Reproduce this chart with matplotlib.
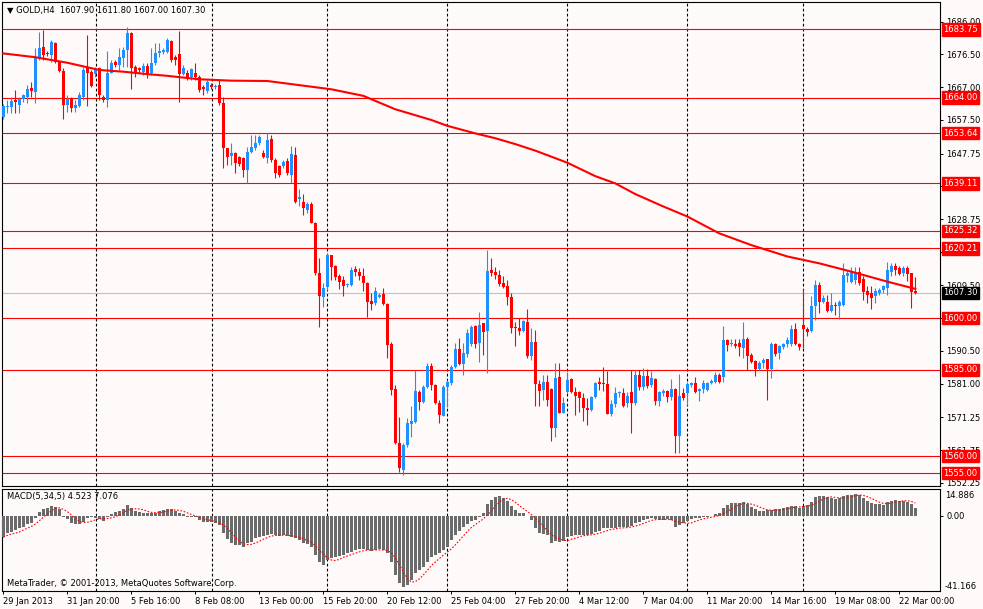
import numpy as np
import pandas as pd
import matplotlib
matplotlib.use("Agg")
import matplotlib.pyplot as plt
from matplotlib.transforms import blended_transform_factory

#### Data (GOLD, H4, 29 Jan - 22 Mar 2013) ####

opens = [
    1658.3, 1661.2, 1661.4, 1663.3, 1661.8, 1663.5, 1664.3, 1666.8, 1665.7, 1675.7,
    1678.6, 1677.0, 1676.3, 1679.7, 1674.4, 1671.8, 1661.8, 1663.7, 1660.9, 1661.5,
    1664.3, 1672.5, 1671.5, 1670.8, 1672.5, 1664.3, 1663.3, 1671.2, 1674.4, 1673.4,
    1675.4, 1677.8, 1682.6, 1673.0, 1672.5, 1671.5, 1673.2, 1671.2, 1673.9, 1676.8,
    1677.3, 1677.3, 1680.5, 1675.7, 1676.6, 1670.8, 1671.2, 1670.1, 1671.0, 1669.9,
    1667.0, 1666.0, 1667.6, 1667.0, 1667.6, 1662.5, 1649.3, 1647.0, 1647.8, 1646.8,
    1646.4, 1643.0, 1648.3, 1649.3, 1650.7, 1648.0, 1646.4, 1652.0, 1645.9, 1644.2,
    1644.0, 1645.7, 1641.5, 1647.3, 1634.6, 1633.8, 1631.5, 1633.0, 1627.5, 1613.0,
    1606.2, 1609.1, 1618.3, 1615.1, 1612.3, 1611.1, 1609.7, 1609.6, 1614.4, 1613.5,
    1612.3, 1610.3, 1605.1, 1604.5, 1606.1, 1607.0, 1604.1, 1592.5, 1579.4, 1563.9,
    1556.0, 1563.2, 1569.3, 1570.0, 1578.7, 1575.8, 1580.1, 1586.1, 1580.6, 1575.5,
    1571.6, 1580.1, 1581.1, 1585.9, 1591.0, 1586.7, 1589.6, 1592.5, 1597.7, 1592.9,
    1598.5, 1596.4, 1614.0, 1613.5, 1612.5, 1610.3, 1609.4, 1606.1, 1597.5, 1597.1,
    1596.4, 1599.0, 1589.0, 1593.2, 1580.9, 1579.2, 1581.6, 1579.4, 1568.1, 1582.8,
    1572.4, 1578.7, 1582.3, 1578.7, 1578.7, 1576.8, 1573.9, 1573.4, 1577.1, 1581.6,
    1581.3, 1580.9, 1572.2, 1575.1, 1578.2, 1578.2, 1575.5, 1578.7, 1575.3, 1583.5,
    1580.1, 1583.2, 1580.6, 1582.3, 1576.1, 1578.4, 1579.0, 1577.1, 1579.4, 1565.8,
    1578.2, 1578.2, 1580.6, 1581.1, 1579.0, 1579.4, 1579.2, 1581.3, 1581.6, 1583.5,
    1583.0, 1593.7, 1592.5, 1592.5, 1592.9, 1591.3, 1593.9, 1589.3, 1587.7, 1585.2,
    1587.1, 1588.1, 1585.2, 1592.5, 1590.0, 1591.6, 1592.5, 1592.5, 1597.0, 1592.5,
    1598.0, 1596.8, 1596.4, 1603.6, 1609.6, 1604.8, 1604.8, 1602.2, 1603.8, 1603.5,
    1603.9, 1612.1, 1610.6, 1611.1, 1613.5, 1611.3, 1607.9, 1607.2, 1606.3, 1607.2,
    1608.2, 1608.7, 1613.5, 1615.0, 1614.5, 1613.0, 1614.5, 1613.0, 1607.9,
]
highs = [
    1662.0, 1663.3, 1664.3, 1666.2, 1664.3, 1664.9, 1667.6, 1668.6, 1678.3, 1683.1,
    1683.6, 1677.5, 1680.7, 1680.2, 1674.6, 1672.5, 1664.7, 1664.3, 1663.3, 1665.7,
    1673.0, 1682.1, 1672.0, 1673.0, 1673.0, 1664.7, 1677.5, 1674.9, 1675.0, 1678.3,
    1678.8, 1684.6, 1683.1, 1673.4, 1673.0, 1673.9, 1673.9, 1678.3, 1679.7, 1679.7,
    1678.3, 1681.2, 1680.7, 1676.3, 1683.4, 1673.4, 1672.0, 1672.5, 1673.9, 1670.5,
    1667.6, 1669.1, 1668.1, 1668.0, 1669.1, 1664.3, 1649.5, 1650.7, 1648.3, 1647.0,
    1646.8, 1649.8, 1653.1, 1653.1, 1653.1, 1648.8, 1653.6, 1653.1, 1646.4, 1644.5,
    1645.8, 1646.4, 1650.0, 1649.6, 1637.4, 1635.9, 1633.8, 1633.8, 1628.0, 1617.4,
    1610.1, 1618.8, 1618.4, 1615.4, 1612.8, 1612.1, 1610.1, 1614.8, 1615.1, 1614.5,
    1614.5, 1610.6, 1607.2, 1609.0, 1607.2, 1608.7, 1604.3, 1593.2, 1580.6, 1571.3,
    1563.7, 1571.0, 1574.5, 1585.0, 1579.2, 1580.6, 1586.9, 1587.1, 1580.9, 1576.3,
    1580.6, 1582.1, 1586.4, 1592.7, 1594.2, 1592.7, 1596.8, 1597.9, 1597.9, 1601.9,
    1598.5, 1619.8, 1617.4, 1614.8, 1614.0, 1612.1, 1611.1, 1607.2, 1599.0, 1600.0,
    1599.5, 1602.6, 1597.1, 1596.6, 1582.1, 1583.5, 1583.5, 1579.7, 1587.1, 1587.1,
    1577.2, 1584.5, 1582.6, 1580.1, 1579.0, 1578.2, 1576.8, 1577.5, 1581.6, 1583.0,
    1585.9, 1584.8, 1576.3, 1580.1, 1579.0, 1579.7, 1578.7, 1585.0, 1585.0, 1585.0,
    1585.5, 1585.2, 1584.8, 1582.6, 1578.8, 1579.4, 1579.2, 1582.3, 1579.7, 1583.8,
    1579.7, 1581.6, 1581.6, 1582.9, 1579.7, 1582.1, 1581.6, 1582.3, 1584.5, 1584.0,
    1597.8, 1593.9, 1593.9, 1593.9, 1593.9, 1599.0, 1594.5, 1590.0, 1587.9, 1587.7,
    1588.4, 1588.1, 1593.2, 1592.9, 1592.2, 1592.9, 1594.5, 1598.0, 1598.5, 1592.9,
    1608.4, 1597.5, 1606.3, 1611.1, 1610.6, 1606.7, 1606.7, 1607.2, 1604.8, 1605.3,
    1615.9, 1614.0, 1614.8, 1614.8, 1614.8, 1612.1, 1609.2, 1609.4, 1608.7, 1608.7,
    1609.6, 1616.4, 1615.9, 1615.9, 1615.2, 1615.2, 1615.0, 1613.2, 1611.8,
]
lows = [
    1657.8, 1659.4, 1659.4, 1659.4, 1659.4, 1662.8, 1662.3, 1664.3, 1662.3, 1674.9,
    1674.9, 1676.0, 1674.4, 1674.1, 1671.5, 1657.7, 1659.9, 1659.9, 1659.9, 1661.4,
    1663.3, 1661.5, 1667.0, 1670.1, 1663.3, 1662.8, 1661.2, 1671.2, 1673.0, 1672.0,
    1673.0, 1673.0, 1666.4, 1670.1, 1671.0, 1670.5, 1669.6, 1670.5, 1673.4, 1675.9,
    1676.5, 1676.8, 1674.4, 1673.4, 1662.8, 1670.5, 1669.1, 1669.1, 1669.1, 1665.7,
    1664.7, 1665.4, 1666.4, 1666.6, 1661.8, 1643.5, 1644.4, 1644.4, 1642.0, 1644.0,
    1641.0, 1639.1, 1647.8, 1648.8, 1650.2, 1646.4, 1644.9, 1645.4, 1640.6, 1641.0,
    1643.5, 1641.5, 1639.1, 1633.3, 1632.4, 1629.9, 1630.6, 1627.5, 1612.5, 1597.5,
    1603.3, 1608.2, 1611.1, 1611.1, 1608.4, 1606.5, 1609.0, 1609.2, 1612.1, 1611.1,
    1608.0, 1600.3, 1602.4, 1603.8, 1605.8, 1603.8, 1588.4, 1577.7, 1563.6, 1555.5,
    1554.5, 1562.7, 1565.4, 1569.5, 1573.4, 1575.3, 1579.7, 1579.2, 1575.1, 1569.5,
    1571.6, 1574.3, 1580.6, 1585.5, 1586.4, 1583.5, 1588.8, 1591.9, 1591.3, 1587.4,
    1589.3, 1584.0, 1612.1, 1611.3, 1609.3, 1608.7, 1603.8, 1595.8, 1591.9, 1595.1,
    1596.1, 1588.4, 1587.9, 1574.5, 1574.5, 1576.3, 1574.5, 1564.5, 1565.4, 1572.4,
    1572.4, 1578.2, 1578.2, 1571.9, 1572.9, 1570.3, 1569.0, 1573.2, 1576.8, 1579.2,
    1579.0, 1572.2, 1571.6, 1574.3, 1577.2, 1574.3, 1574.3, 1566.8, 1574.8, 1579.2,
    1579.2, 1579.7, 1580.1, 1574.8, 1574.5, 1577.3, 1575.8, 1576.3, 1561.0, 1561.0,
    1576.3, 1574.8, 1580.1, 1578.4, 1576.1, 1578.2, 1579.0, 1580.9, 1581.3, 1581.1,
    1581.6, 1590.6, 1591.8, 1591.3, 1589.0, 1588.4, 1585.0, 1586.9, 1583.2, 1585.0,
    1585.5, 1576.3, 1582.6, 1589.0, 1588.1, 1591.0, 1591.6, 1591.9, 1592.2, 1590.8,
    1591.3, 1594.7, 1596.1, 1599.5, 1601.6, 1604.3, 1601.9, 1601.9, 1600.9, 1599.7,
    1603.6, 1610.6, 1610.3, 1609.9, 1609.6, 1605.3, 1604.3, 1602.6, 1604.3, 1606.7,
    1607.2, 1606.7, 1612.3, 1612.5, 1612.5, 1612.1, 1610.9, 1602.9, 1607.0,
]
closes = [
    1661.5, 1661.5, 1663.1, 1662.8, 1663.7, 1664.7, 1666.4, 1666.0, 1675.7, 1678.3,
    1676.3, 1676.6, 1680.2, 1674.4, 1671.8, 1661.8, 1663.7, 1660.9, 1661.8, 1664.7,
    1672.0, 1671.2, 1667.3, 1672.0, 1664.7, 1663.3, 1671.2, 1673.9, 1673.4, 1675.9,
    1677.8, 1682.6, 1672.5, 1671.5, 1672.0, 1673.2, 1670.5, 1673.9, 1676.8, 1677.6,
    1677.8, 1680.7, 1674.9, 1674.9, 1670.8, 1672.5, 1669.9, 1672.2, 1669.9, 1666.2,
    1666.4, 1668.6, 1667.0, 1667.4, 1662.3, 1649.3, 1646.8, 1647.8, 1644.9, 1644.7,
    1643.0, 1648.3, 1649.8, 1650.9, 1652.5, 1646.8, 1651.7, 1645.9, 1642.0, 1641.5,
    1645.2, 1642.0, 1647.5, 1633.8, 1635.1, 1631.9, 1633.1, 1627.7, 1613.0, 1606.4,
    1608.7, 1618.3, 1614.8, 1611.8, 1610.6, 1609.2, 1610.0, 1614.0, 1613.5, 1612.3,
    1610.1, 1604.8, 1604.1, 1608.0, 1606.7, 1604.1, 1592.2, 1579.2, 1563.9, 1556.5,
    1563.2, 1569.5, 1570.3, 1579.0, 1575.8, 1580.1, 1586.1, 1580.6, 1575.5, 1571.9,
    1580.1, 1581.6, 1585.9, 1591.0, 1586.7, 1589.8, 1595.8, 1597.5, 1592.5, 1598.0,
    1596.1, 1613.8, 1613.2, 1612.5, 1609.9, 1609.0, 1606.1, 1597.1, 1597.1, 1596.4,
    1599.3, 1589.0, 1593.2, 1580.9, 1579.0, 1581.6, 1576.3, 1568.1, 1582.6, 1572.4,
    1575.3, 1582.1, 1578.7, 1577.4, 1576.8, 1573.9, 1573.4, 1577.1, 1581.3, 1580.9,
    1580.9, 1572.2, 1575.1, 1578.2, 1578.6, 1574.5, 1577.3, 1575.5, 1583.5, 1580.1,
    1583.2, 1580.3, 1582.6, 1576.1, 1578.5, 1579.0, 1577.1, 1579.4, 1565.8, 1577.4,
    1576.8, 1580.9, 1581.3, 1578.7, 1579.4, 1581.1, 1581.3, 1581.9, 1583.5, 1581.6,
    1593.7, 1592.2, 1592.9, 1591.9, 1591.6, 1593.9, 1588.9, 1587.4, 1585.2, 1587.1,
    1587.9, 1585.2, 1592.5, 1589.6, 1591.8, 1592.5, 1593.7, 1597.0, 1592.5, 1591.6,
    1596.8, 1596.1, 1603.6, 1609.6, 1604.8, 1605.8, 1602.2, 1603.8, 1603.5, 1604.8,
    1612.5, 1613.0, 1613.5, 1613.5, 1610.1, 1607.7, 1606.7, 1605.8, 1607.9, 1608.2,
    1609.2, 1614.0, 1615.0, 1614.0, 1612.8, 1614.5, 1612.8, 1607.7, 1607.3,
]

# moving average (bar index, price)
ma_bars = [0, 8, 16, 24, 30, 36, 41, 49, 57, 66, 74, 82, 90, 98, 107, 111, 118,
           123, 128, 133, 141, 148, 153, 158, 165, 171, 179, 187, 196, 204, 212, 221, 228]
ma_vals = [1676.8, 1675.7, 1674.1, 1672.0, 1671.5, 1670.8, 1670.3, 1669.3, 1668.9,
           1668.8, 1667.6, 1666.4, 1664.5, 1660.6, 1657.5, 1655.8, 1653.6, 1652.2,
           1650.5, 1648.6, 1645.1, 1641.2, 1639.1, 1636.0, 1632.4, 1629.5, 1624.6,
           1621.2, 1617.9, 1615.9, 1613.5, 1610.6, 1608.5]

# MACD(5,34,5) main histogram
macd_main = [
    -12.5, -10.2, -9.2, -8.3, -7.3, -6.4, -5.0, -4.0, -1.5, 2.3,
    3.7, 4.2, 5.6, 5.2, 3.9, -0.6, -2.1, -4.0, -5.0, -5.0,
    -3.5, -1.5, -1.0, -1.2, -2.1, -2.9, -1.0, 0.8, 2.1, 2.9,
    3.7, 6.2, 4.2, 2.9, 2.3, 1.8, 1.4, 1.4, 1.8, 2.7,
    3.3, 4.0, 3.7, 2.9, 1.4, 0.8, -0.6, -1.0, -1.0, -2.5,
    -3.5, -3.5, -3.5, -4.0, -5.4, -10.2, -13.7, -15.6, -17.0, -17.0,
    -17.9, -16.0, -15.0, -13.1, -12.1, -11.8, -11.2, -10.8, -11.2, -11.8,
    -11.2, -11.8, -12.1, -13.1, -14.1, -15.6, -16.4, -17.9, -22.7, -26.6,
    -28.5, -25.6, -24.7, -24.1, -23.3, -22.7, -21.8, -20.8, -19.8, -19.5,
    -19.5, -19.8, -20.2, -19.8, -19.5, -19.8, -21.4, -26.6, -34.3, -39.1,
    -41.0, -40.1, -37.2, -33.3, -31.4, -29.5, -26.6, -23.7, -22.7, -21.4,
    -19.8, -17.9, -14.1, -11.2, -8.7, -6.7, -4.8, -2.9, -2.5, -0.6,
    1.4, 6.5, 9.1, 11.0, 11.2, 10.0, 8.7, 5.6, 3.3, 1.7,
    1.4, -0.2, -2.5, -7.3, -10.2, -10.6, -11.2, -15.6, -14.5, -15.0,
    -14.5, -12.5, -11.8, -11.2, -11.2, -11.2, -11.2, -10.6, -9.2, -8.7,
    -7.3, -7.3, -7.3, -7.3, -6.7, -6.7, -6.4, -6.0, -4.0, -3.5,
    -2.5, -2.1, -1.5, -2.1, -2.5, -2.5, -2.1, -2.5, -6.4, -5.4,
    -4.4, -2.9, -2.1, -1.5, -1.5, -1.0, -0.6, 0.0, 0.8, 1.4,
    4.2, 6.2, 7.1, 7.1, 7.1, 7.7, 6.7, 4.8, 3.7, 2.7,
    2.7, 3.3, 3.3, 3.7, 3.7, 4.2, 5.2, 5.6, 5.6, 4.6,
    5.6, 6.2, 8.1, 11.0, 11.4, 11.4, 10.6, 10.0, 9.4, 10.0,
    11.4, 12.0, 12.0, 12.5, 12.0, 10.0, 8.7, 7.1, 6.7, 6.7,
    6.2, 8.1, 8.7, 9.1, 8.7, 8.7, 8.1, 6.7, 4.523,
]

levels = [1683.75, 1664.00, 1653.64, 1639.11, 1625.32, 1620.21,
          1600.00, 1585.00, 1560.00, 1555.00]
bid = 1607.30
price_ticks = [1686.00, 1676.50, 1667.00, 1657.50, 1647.75, 1638.25, 1628.75,
               1619.25, 1609.50, 1600.00, 1590.50, 1581.00, 1571.25, 1561.75, 1552.25]
macd_max, macd_min = 14.886, -41.166

time_bars = list(range(0, 229, 16))
time_labels = ["29 Jan 2013", "31 Jan 20:00", "5 Feb 16:00", "8 Feb 08:00",
               "13 Feb 00:00", "15 Feb 20:00", "20 Feb 12:00", "25 Feb 04:00",
               "27 Feb 20:00", "4 Mar 12:00", "7 Mar 04:00", "11 Mar 20:00",
               "14 Mar 16:00", "19 Mar 08:00", "22 Mar 00:00"]
grid_bars = [23.1, 52.1, 81.0, 110.9, 141.0, 171.0, 200.0]

#### Style ####

BG = "#FFFAFA"
BULL = "#1E90FF"
BEAR = "#FF0000"
FS = 6
W, H = 983, 609

plt.rcParams["font.family"] = ["DejaVu Sans"]
fig = plt.figure(figsize=(W / 100, H / 100), dpi=100, facecolor=BG)


def px_axes(l, t, r, b):
    return fig.add_axes([l / W, 1 - b / H, (r - l) / W, (b - t) / H], facecolor=BG)


ax = px_axes(2, 2, 940, 486)
ax2 = px_axes(2, 489, 940, 591)

o = np.array(opens)
h = np.array(highs)
lo = np.array(lows)
c = np.array(closes)
x = np.arange(len(o))
cols = np.where(c >= o, BULL, BEAR)

xlim = (-0.325, 234.175)

# candles
ax.vlines(x, lo, h, colors=cols, lw=0.8, zorder=3)
body = np.maximum(np.abs(c - o), 0.3)
ax.bar(x, body, bottom=np.minimum(o, c), width=0.75, color=cols, lw=0, zorder=3)

# levels
for lv in levels:
    ax.axhline(lv, color=BEAR, lw=0.8, zorder=2)
ax.axhline(bid, color="#C0C0C0", lw=0.8, zorder=2)
ax.plot(ma_bars, ma_vals, color=BEAR, lw=1.5, zorder=4)

for g in grid_bars:
    ax.axvline(g, color="black", lw=0.8, ls=(0, (2.5, 2)), zorder=1)
    ax2.axvline(g, color="black", lw=0.8, ls=(0, (2.5, 2)), zorder=1)

ax.set_xlim(*xlim)
ax.set_ylim(1551.31, 1691.72)
ax.set_xticks([])
ax.yaxis.tick_right()
ax.set_yticks(price_ticks)
ax.set_yticklabels([f"{v:.2f}" for v in price_ticks])
ax.tick_params(axis="y", labelsize=FS, length=2.5, width=0.7, pad=2, colors="black")

trans = blended_transform_factory(ax.transAxes, ax.transData)
for lv in levels:
    ax.text(1.0035, lv, f"{lv:.2f}", transform=trans, ha="left", va="center",
            fontsize=FS, color="white", zorder=10, clip_on=False,
            bbox=dict(boxstyle="square,pad=0.2", fc=BEAR, ec=BEAR))
ax.text(1.0035, bid, f"{bid:.2f}", transform=trans, ha="left", va="center",
        fontsize=FS, color="white", zorder=10, clip_on=False,
        bbox=dict(boxstyle="square,pad=0.2", fc="black", ec="black"))

# MACD panel
macd = pd.Series(macd_main)
signal = macd.rolling(5, min_periods=1).mean()
ax2.bar(x, macd.values, width=0.75, color="#6B6B6B", lw=0, zorder=3)
ax2.plot(x, signal.values, color=BEAR, lw=0.8, ls=(0, (1.5, 1.5)), zorder=4)
ax2.set_xlim(*xlim)
ax2.set_ylim(-43.53, 15.43)
ax2.yaxis.tick_right()
ax2.set_yticks([0])
ax2.set_yticklabels(["0.00"])
ax2.tick_params(axis="y", labelsize=FS, length=2.5, width=0.7, pad=2)
ax2.annotate(f"{macd_max:.3f}", xy=(1, 1), xycoords="axes fraction", xytext=(3.5, -4.5),
             textcoords="offset points", ha="left", va="center", fontsize=FS)
ax2.annotate(f"{macd_min:.3f}", xy=(1, 0), xycoords="axes fraction", xytext=(3.5, 3),
             textcoords="offset points", ha="left", va="center", fontsize=FS)

ax2.set_xticks(time_bars)
ax2.set_xticklabels(time_labels)
for lab in ax2.get_xticklabels():
    lab.set_horizontalalignment("left")
ax2.tick_params(axis="x", labelsize=FS, length=2, width=0.7, pad=2)

for a in (ax, ax2):
    for s in a.spines.values():
        s.set_linewidth(0.8)
        s.set_color("black")

fig.text(7 / W, 1 - 11 / H, "\u25BC GOLD,H4  1607.90 1611.80 1607.00 1607.30",
         fontsize=FS, ha="left", va="center")
ax2.text(5 / 938, 1 - 8 / 102, "MACD(5,34,5) 4.523 7.076", transform=ax2.transAxes,
         fontsize=FS, ha="left", va="center")
ax2.text(5 / 938, 8 / 102, "MetaTrader, \u00A9 2001-2013, MetaQuotes Software Corp.",
         transform=ax2.transAxes, fontsize=FS, ha="left", va="center")

fig.savefig("out.png", dpi=100, facecolor=BG)
